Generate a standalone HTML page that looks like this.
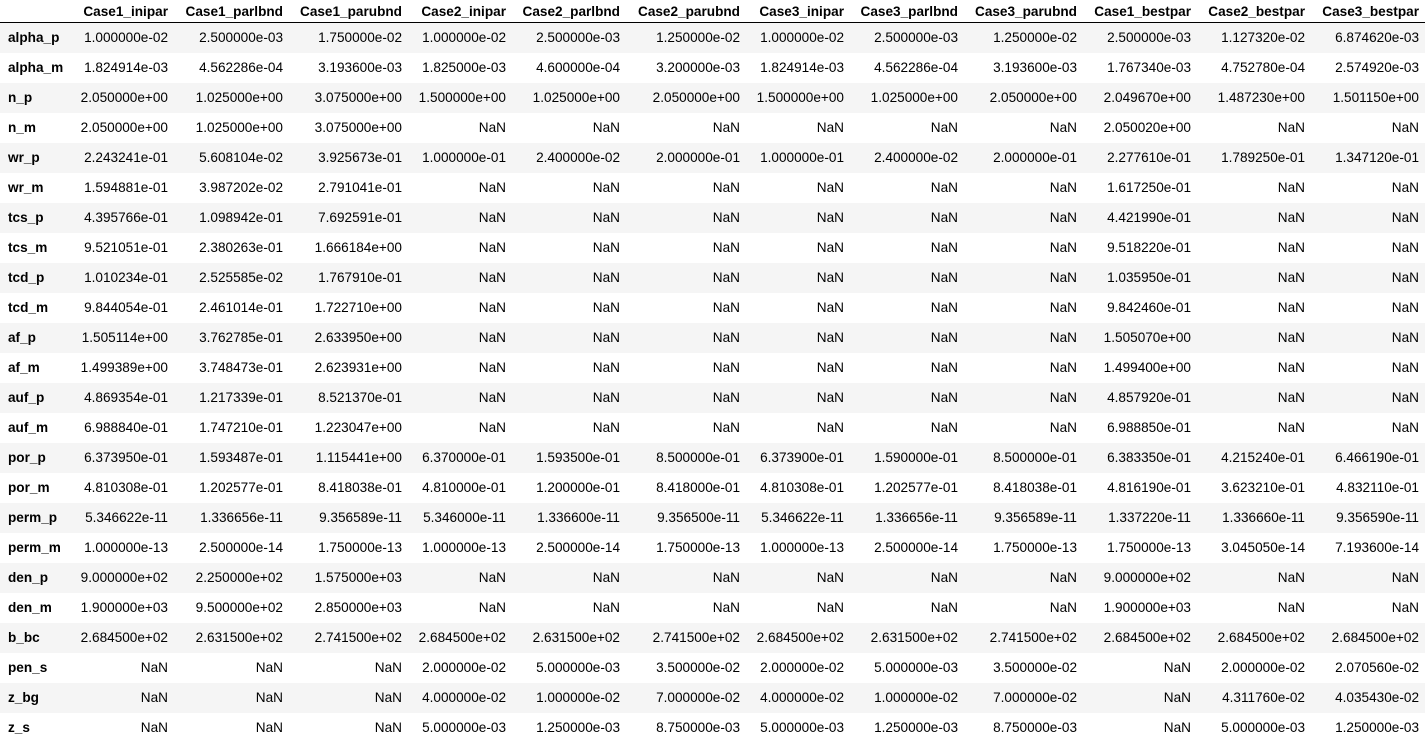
<!DOCTYPE html>
<html><head><meta charset="utf-8">
<style>
body{margin:0;background:#fff;width:1426px;height:736px;overflow:hidden;font-family:"Liberation Sans",Arial,sans-serif;font-size:13.6px;color:#000}
table{border-collapse:collapse;table-layout:fixed;width:1425px}
th,td{padding:0 6px 0 0;text-align:right;white-space:nowrap;overflow:visible}
thead th{height:22px;border-bottom:1px solid #000;font-weight:bold;vertical-align:middle}
tbody tr{height:30px}
tbody tr:nth-child(odd){background:#f5f5f5}
tbody th{text-align:left;padding-left:8px;font-weight:bold}
</style></head>
<body>
<table>
<colgroup><col style="width:75px"><col style="width:99px"><col style="width:115px"><col style="width:119px"><col style="width:104px"><col style="width:114px"><col style="width:120px"><col style="width:104px"><col style="width:114px"><col style="width:119px"><col style="width:114px"><col style="width:114px"><col style="width:114px"></colgroup>
<thead><tr id="hdr"><th></th></tr></thead>
<tbody id="body"></tbody>
</table>
<script>
const columns=["Case1_inipar","Case1_parlbnd","Case1_parubnd","Case2_inipar","Case2_parlbnd","Case2_parubnd","Case3_inipar","Case3_parlbnd","Case3_parubnd","Case1_bestpar","Case2_bestpar","Case3_bestpar"];
const N="NaN";
const rows=[
["alpha_p","1.000000e-02","2.500000e-03","1.750000e-02","1.000000e-02","2.500000e-03","1.250000e-02","1.000000e-02","2.500000e-03","1.250000e-02","2.500000e-03","1.127320e-02","6.874620e-03"],
["alpha_m","1.824914e-03","4.562286e-04","3.193600e-03","1.825000e-03","4.600000e-04","3.200000e-03","1.824914e-03","4.562286e-04","3.193600e-03","1.767340e-03","4.752780e-04","2.574920e-03"],
["n_p","2.050000e+00","1.025000e+00","3.075000e+00","1.500000e+00","1.025000e+00","2.050000e+00","1.500000e+00","1.025000e+00","2.050000e+00","2.049670e+00","1.487230e+00","1.501150e+00"],
["n_m","2.050000e+00","1.025000e+00","3.075000e+00",N,N,N,N,N,N,"2.050020e+00",N,N],
["wr_p","2.243241e-01","5.608104e-02","3.925673e-01","1.000000e-01","2.400000e-02","2.000000e-01","1.000000e-01","2.400000e-02","2.000000e-01","2.277610e-01","1.789250e-01","1.347120e-01"],
["wr_m","1.594881e-01","3.987202e-02","2.791041e-01",N,N,N,N,N,N,"1.617250e-01",N,N],
["tcs_p","4.395766e-01","1.098942e-01","7.692591e-01",N,N,N,N,N,N,"4.421990e-01",N,N],
["tcs_m","9.521051e-01","2.380263e-01","1.666184e+00",N,N,N,N,N,N,"9.518220e-01",N,N],
["tcd_p","1.010234e-01","2.525585e-02","1.767910e-01",N,N,N,N,N,N,"1.035950e-01",N,N],
["tcd_m","9.844054e-01","2.461014e-01","1.722710e+00",N,N,N,N,N,N,"9.842460e-01",N,N],
["af_p","1.505114e+00","3.762785e-01","2.633950e+00",N,N,N,N,N,N,"1.505070e+00",N,N],
["af_m","1.499389e+00","3.748473e-01","2.623931e+00",N,N,N,N,N,N,"1.499400e+00",N,N],
["auf_p","4.869354e-01","1.217339e-01","8.521370e-01",N,N,N,N,N,N,"4.857920e-01",N,N],
["auf_m","6.988840e-01","1.747210e-01","1.223047e+00",N,N,N,N,N,N,"6.988850e-01",N,N],
["por_p","6.373950e-01","1.593487e-01","1.115441e+00","6.370000e-01","1.593500e-01","8.500000e-01","6.373900e-01","1.590000e-01","8.500000e-01","6.383350e-01","4.215240e-01","6.466190e-01"],
["por_m","4.810308e-01","1.202577e-01","8.418038e-01","4.810000e-01","1.200000e-01","8.418000e-01","4.810308e-01","1.202577e-01","8.418038e-01","4.816190e-01","3.623210e-01","4.832110e-01"],
["perm_p","5.346622e-11","1.336656e-11","9.356589e-11","5.346000e-11","1.336600e-11","9.356500e-11","5.346622e-11","1.336656e-11","9.356589e-11","1.337220e-11","1.336660e-11","9.356590e-11"],
["perm_m","1.000000e-13","2.500000e-14","1.750000e-13","1.000000e-13","2.500000e-14","1.750000e-13","1.000000e-13","2.500000e-14","1.750000e-13","1.750000e-13","3.045050e-14","7.193600e-14"],
["den_p","9.000000e+02","2.250000e+02","1.575000e+03",N,N,N,N,N,N,"9.000000e+02",N,N],
["den_m","1.900000e+03","9.500000e+02","2.850000e+03",N,N,N,N,N,N,"1.900000e+03",N,N],
["b_bc","2.684500e+02","2.631500e+02","2.741500e+02","2.684500e+02","2.631500e+02","2.741500e+02","2.684500e+02","2.631500e+02","2.741500e+02","2.684500e+02","2.684500e+02","2.684500e+02"],
["pen_s",N,N,N,"2.000000e-02","5.000000e-03","3.500000e-02","2.000000e-02","5.000000e-03","3.500000e-02",N,"2.000000e-02","2.070560e-02"],
["z_bg",N,N,N,"4.000000e-02","1.000000e-02","7.000000e-02","4.000000e-02","1.000000e-02","7.000000e-02",N,"4.311760e-02","4.035430e-02"],
["z_s",N,N,N,"5.000000e-03","1.250000e-03","8.750000e-03","5.000000e-03","1.250000e-03","8.750000e-03",N,"5.000000e-03","1.250000e-03"]
];
const hdr=document.getElementById('hdr');
columns.forEach(c=>{const th=document.createElement('th');th.textContent=c;


hdr.appendChild(th);});
const body=document.getElementById('body');
rows.forEach(r=>{const tr=document.createElement('tr');


r.forEach((v,i)=>{const c=document.createElement(i?'td':'th');c.textContent=v;


tr.appendChild(c);});
body.appendChild(tr);});
</script>
</body></html>
